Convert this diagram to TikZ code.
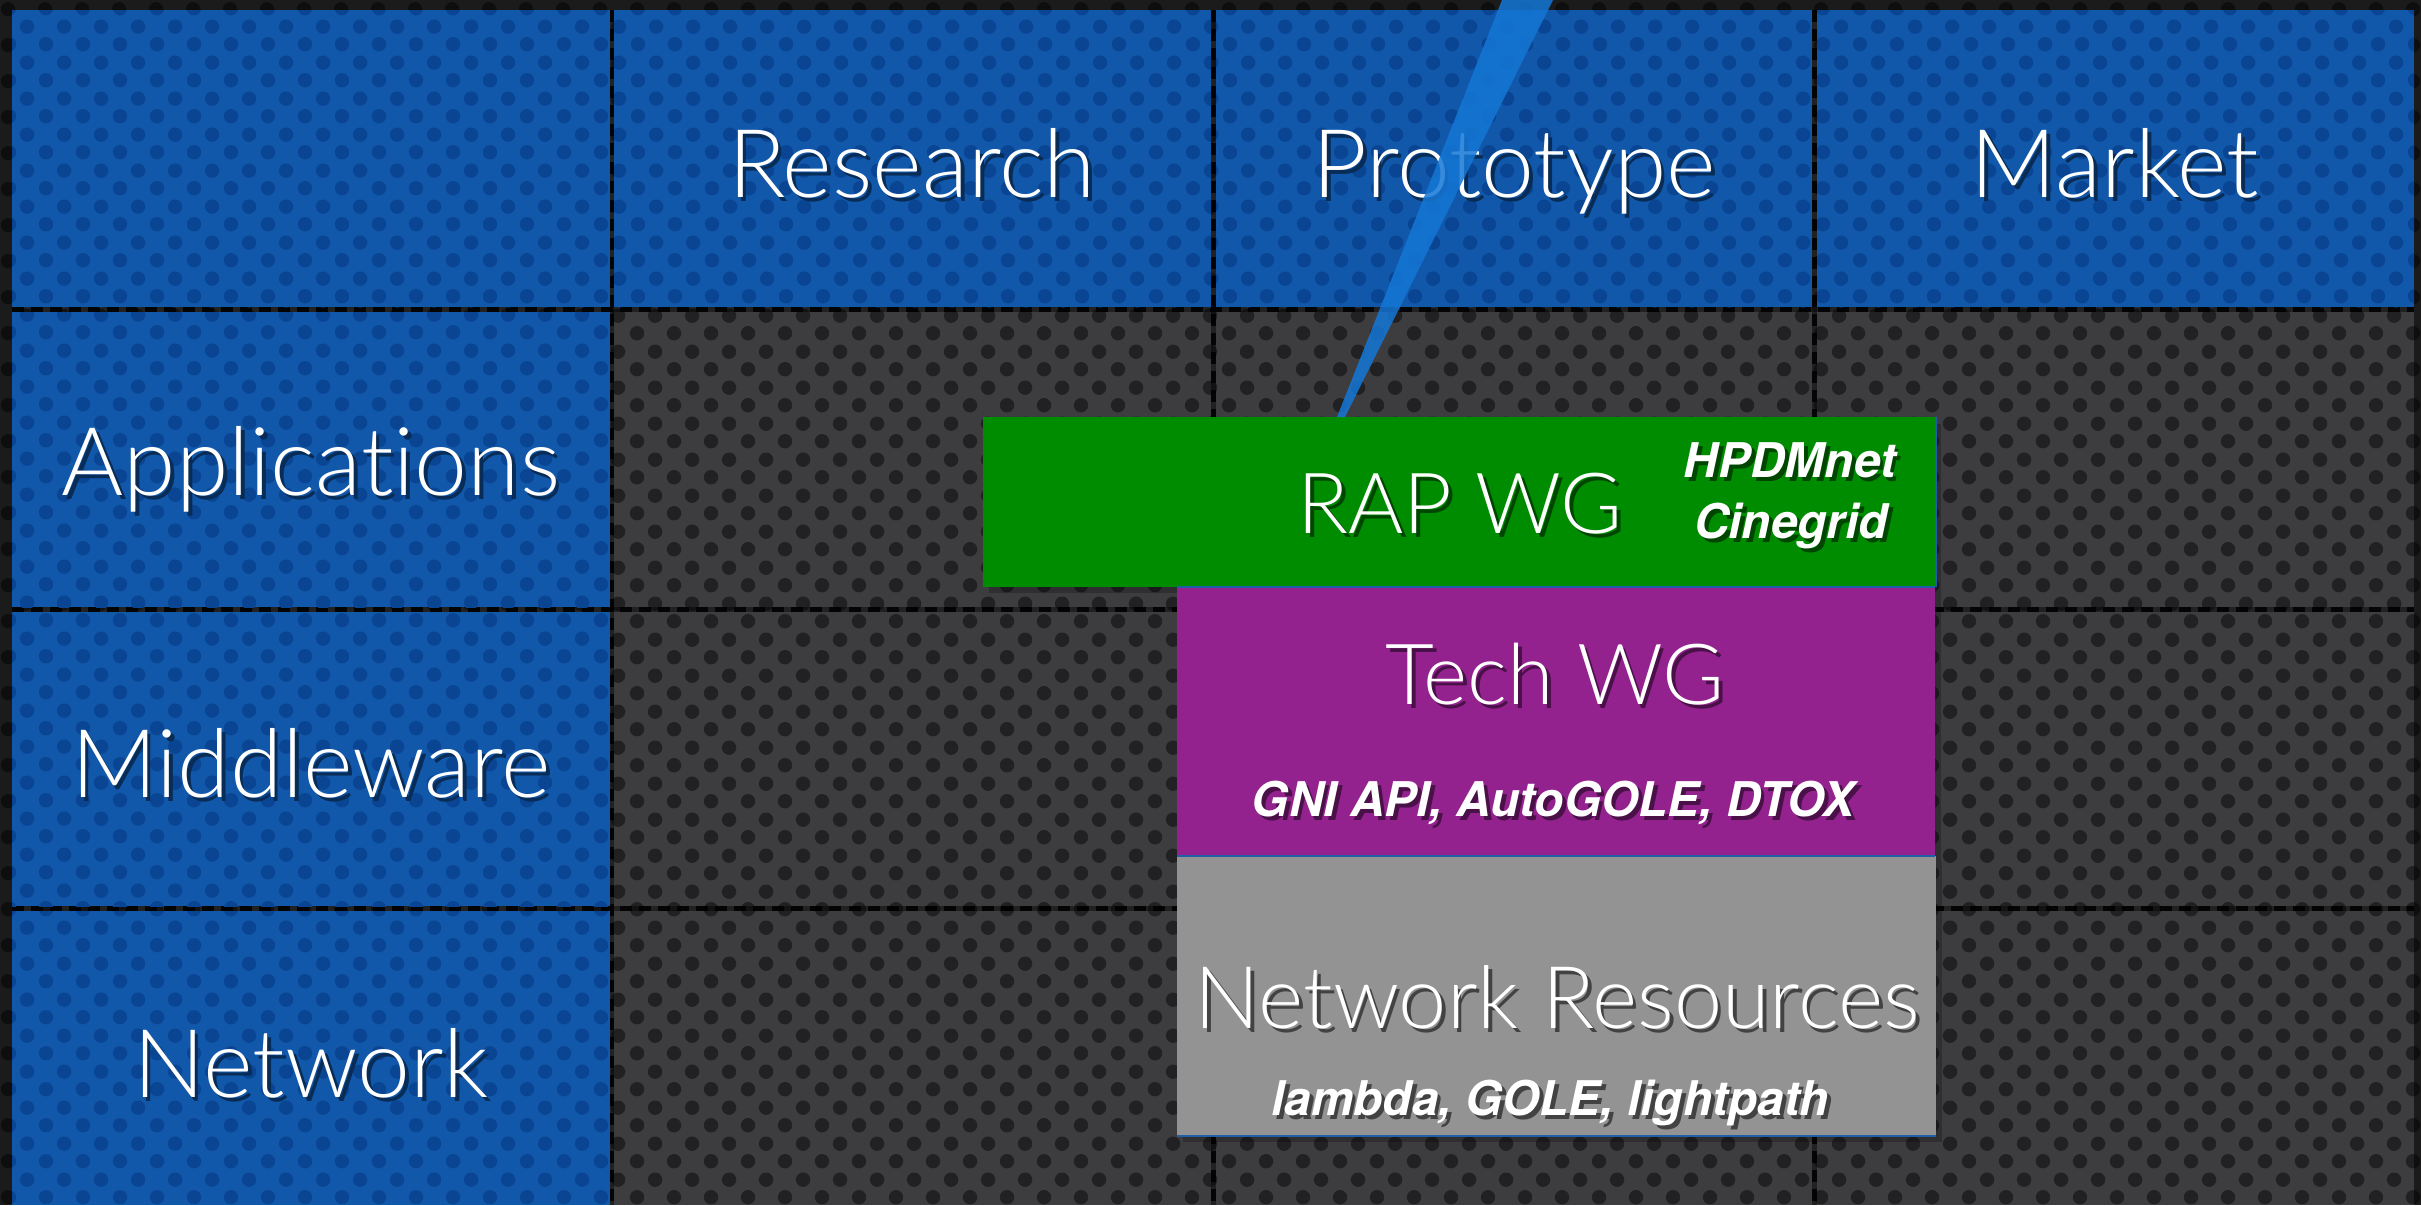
\documentclass[tikz,border=0pt]{standalone}
\usepackage{fontspec}
\setmainfont{TeX Gyre Heros}
\newfontfamily\thinfont{Lato Light}[Ligatures=NoCommon]
\usetikzlibrary{patterns}
\pgfdeclarepatternformonly{holes}{\pgfqpoint{0pt}{0pt}}{\pgfqpoint{10.53pt}{10.24pt}}{\pgfqpoint{10.53pt}{10.24pt}}{%
  \pgfpathcircle{\pgfqpoint{2.63pt}{2.56pt}}{2.1pt}%
  \pgfpathcircle{\pgfqpoint{7.9pt}{7.68pt}}{2.1pt}%
  \pgfusepath{fill}}
\definecolor{bgdark}{HTML}{3D3D3F}
\definecolor{bghole}{HTML}{212123}
\definecolor{cellblue}{HTML}{1158AA}
\definecolor{cellhole}{HTML}{0A4593}
\definecolor{rapgreen}{HTML}{008C00}
\definecolor{techpurple}{HTML}{93228F}
\definecolor{netgray}{HTML}{939393}
\definecolor{edgeblue}{HTML}{1F5FA5}
\definecolor{beamblue}{HTML}{1577D6}
\newcommand\HeadFont{\thinfont\fontsize{27}{31}\selectfont}
\newcommand\BoxFont{\thinfont\fontsize{24}{28}\selectfont}
\newcommand\SubFont{\fontsize{13.6}{16}\selectfont\bfseries\itshape}
% #1 name, #2 x, #3 y, #4 font, #5 shadow colour, #6 text
\newcommand\ShText[6]{%
  \node[txtwhite,font=#4] (#1) at (#2,#3)
    {\rlap{\kern1.1pt\raisebox{-1.4pt}{\textcolor{#5}{#6}}}#6};}
\tikzset{
  txtwhite/.style={anchor=base,inner sep=0pt,text=white},
  gapsolid/.style={line width=0.045cm,draw=black,opacity=.45},
  gapdash/.style={line width=0.045cm,draw=black,dash pattern=on 0.12cm off 0.07cm,opacity=.85},
  bluecell/.style={fill=cellblue},
  bluetex/.style={pattern=holes,pattern color=cellhole},
  boxshadow/.style={fill=black,opacity=.22},
  edgeline/.style={draw=edgeblue,line width=0.025cm},
  beam/.style={fill=beamblue,opacity=.85}
}
\colorlet{shblue}{cellblue!50!black}
\colorlet{shgreen}{rapgreen!50!black}
\colorlet{shpurple}{techpurple!50!black}
\colorlet{shgray}{netgray!45!black}
\begin{document}
\begin{tikzpicture}[x=0.01cm,y=-0.01cm]
\useasboundingbox (0,0) rectangle (2421,1205);
% background perforated texture
\fill[bgdark] (0,0) rectangle (2421,1205);
\fill[pattern=holes,pattern color=bghole] (0,0) rectangle (2421,1205);
% outer margins
\fill[black,opacity=.55] (0,0) rectangle (2421,10);
\fill[black,opacity=.55] (0,10) rectangle (12,1205);
\fill[black,opacity=.55] (2414,10) rectangle (2421,1205);
% grid gaps
\foreach \gx in {612,1213.5,1814.5}{
  \draw[gapsolid] (\gx,10) -- (\gx,1205);
  \draw[gapdash] (\gx,10) -- (\gx,1205);}
\foreach \gy in {309.5,609.5,908.5}{
  \draw[gapsolid] (12,\gy) -- (2414,\gy);
  \draw[gapdash] (12,\gy) -- (2414,\gy);}
% blue header cells
\foreach \xa/\xb in {12/610,614/1211,1216/1812,1817/2414}{
  \fill[bluecell] (\xa,10) rectangle (\xb,307);
  \fill[bluetex] (\xa,10) rectangle (\xb,307);}
\foreach \ya/\yb in {312/607,612/906,911/1205}{
  \fill[bluecell] (12,\ya) rectangle (610,\yb);
  \fill[bluetex] (12,\ya) rectangle (610,\yb);}
% header labels
\ShText{research}{912}{197}{\HeadFont}{shblue}{Research}
\ShText{prototype}{1514}{197}{\HeadFont}{shblue}{Prototype}
\ShText{market}{2115}{197}{\HeadFont}{shblue}{Market}
\ShText{applications}{311}{495}{\HeadFont}{shblue}{Applications}
\ShText{middleware}{311}{797}{\HeadFont}{shblue}{Middleware}
\ShText{network}{311}{1097}{\HeadFont}{shblue}{Network}
% working-group boxes (shadows)
\fill[boxshadow] (989,424) rectangle (1941,593);
\fill[boxshadow] (1183,593) rectangle (1941,862);
\fill[boxshadow] (1183,862) rectangle (1942,1142);
% boxes
\fill[rapgreen] (983,417) rectangle (1935,587);
\fill[techpurple] (1177,587) rectangle (1935,856);
\fill[netgray] (1177,856) rectangle (1936,1136);
\draw[edgeline] (1177,587) -- (1935,587);
\draw[edgeline] (1177,856) -- (1935,856);
\draw[edgeline] (1177,1136) -- (1936,1136);
\draw[edgeline] (1936,417) -- (1936,587);
% box labels
\ShText{rap}{1460}{533}{\BoxFont}{shgreen}{RAP WG}
\ShText{hpdm}{1790}{477}{\SubFont}{shgreen}{HPDMnet}
\ShText{cine}{1791}{538}{\SubFont}{shgreen}{Cinegrid}
\ShText{tech}{1555}{704}{\BoxFont}{shpurple}{Tech WG}
\ShText{gni}{1553}{816}{\SubFont}{shpurple}{GNI API, AutoGOLE, DTOX}
\ShText{netres}{1557}{1028}{\thinfont\fontsize{24.6}{28}\selectfont}{shgray}{Network Resources}
\ShText{lambda}{1550}{1115}{\SubFont}{shgray}{lambda, GOLE, lightpath}
% blue beam
\coordinate (beamtip) at (1341,417);
\fill[beam] (1502,0) -- (1553,0) -- (1345,417) -- (1337,417) -- cycle;
\end{tikzpicture}
\end{document}
